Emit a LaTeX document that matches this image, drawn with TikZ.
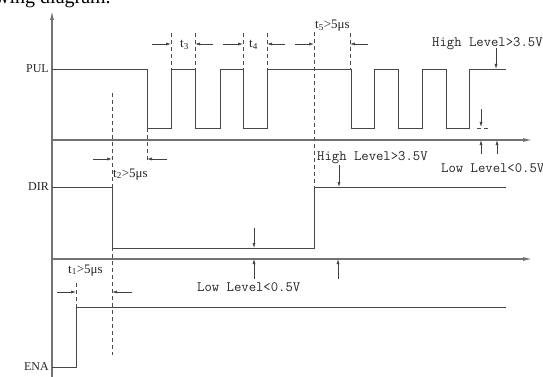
\documentclass[tikz,border=0pt]{standalone}
\usepackage{fontspec}
\setmainfont{Liberation Serif}
\usetikzlibrary{arrows.meta}
\newcommand\lvtext[1]{{\ttfamily\fontsize{14.3}{16}\selectfont #1}}
\tikzset{
  wave/.style={draw=black!72, line width=0.8pt},
  axisline/.style={draw=black!55, line width=1.1pt, -{Latex[length=9pt,width=4pt]}},
  guide/.style={draw=black!70, line width=0.6pt, dash pattern=on 4pt off 3pt},
  dimarrow/.style={draw=black!75, line width=0.6pt, -{Latex[length=5pt,width=3pt]}},
  sig/.style={font=\fontsize{12}{14}\selectfont, text=black!85, inner sep=0pt},
  tlabel/.style={font=\fontsize{13}{15}\selectfont, text=black!85, inner sep=0pt, anchor=base west},
  lvl/.style={text=black!85, inner sep=0pt, anchor=base west}
}
\begin{document}
\begin{tikzpicture}[x=1pt,y=-1pt]
\useasboundingbox (0,0) rectangle (543,377);
\clip (0,0) rectangle (543,377);
\fill[white] (0,0) rectangle (543,377);
% cropped heading text
\node[anchor=base west, inner sep=0pt, font=\fontsize{20}{22}\selectfont] (head) at (-5,4) {wing diagram.};
% axes
\coordinate (ybot) at (52,377);
\coordinate (ytop) at (52,11);
\draw[axisline] (ybot) -- (ytop);
\coordinate (pa0) at (52,140); \coordinate (pa1) at (532,140);
\coordinate (da0) at (52,259); \coordinate (da1) at (532,259);
\draw[axisline] (pa0) -- (pa1);
\draw[axisline] (da0) -- (da1);
% signal labels
\node[sig, anchor=east] (pul) at (49,69) {PUL};
\node[sig, anchor=east] (dir) at (49,187) {DIR};
\node[sig, anchor=east] (ena) at (49,367) {ENA};
% PUL waveform
\draw[wave] (52,69) -| (147,128) -| (171,69) -| (195,128) -| (220,69) -| (243,128) -| (267,69)
  -| (351,128) -| (374,69) -| (398,128) -| (422,69) -| (446,128) -| (469,69) -- (506,69);
% DIR waveform
\draw[wave] (52,187) -| (112,248) -| (314,187) -- (506,187);
% ENA waveform
\draw[wave] (52,367) -| (76,307) -- (506,307);
% guide lines
\draw[guide] (112,93) -- (112,355);
\draw[guide] (147,128) -- (147,163);
\foreach \x in {171,195,243,267,350} \draw[guide] (\x,33) -- (\x,69);
\draw[guide] (314,32) -- (314,187);
\draw[guide] (76,283) -- (76,307);
\draw[guide] (477,128) -- (490,128);
% timing dimension arrows
\draw[dimarrow] (152,44) -- (171,44);
\draw[dimarrow] (213,44) -- (195,44);
\draw[dimarrow] (223,44) -- (243,44);
\draw[dimarrow] (285,44) -- (267,44);
\draw[dimarrow] (295,44) -- (314,44);
\draw[dimarrow] (368,44) -- (350,44);
\draw[dimarrow] (93,159) -- (112,159);
\draw[dimarrow] (167,159) -- (147,159);
\draw[dimarrow] (57,292) -- (76,292);
\draw[dimarrow] (132,292) -- (112,292);
% level arrows
\draw[dimarrow] (496,48) -- (496,69);
\draw[dimarrow] (481,109) -- (481,127);
\draw[dimarrow] (481,154) -- (481,140);
\draw[dimarrow] (497,154) -- (497,140);
\draw[dimarrow] (339,165) -- (339,187);
\draw[dimarrow] (254,228) -- (254,248);
\draw[dimarrow] (254,279) -- (254,259);
\draw[dimarrow] (338,279) -- (338,259);
% timing labels
\node[tlabel] (t3) at (180,48) {t\textsubscript{3}};
\node[tlabel] (t4) at (249,48) {t\textsubscript{4}};
\node[tlabel] (t5) at (315,29) {t\textsubscript{5}>5μs};
\node[tlabel] (t2) at (113,177) {t\textsubscript{2}>5μs};
\node[tlabel] (t1) at (68,273) {t\textsubscript{1}>5μs};
% level labels
\node[lvl] (ph) at (432,47) {\lvtext{High Level>3.5V}};
\node[lvl] (pl) at (441,172) {\lvtext{Low Level<0.5V}};
\node[lvl] (dh) at (317,160) {\lvtext{High Level>3.5V}};
\node[lvl] (dl) at (197,291) {\lvtext{Low Level<0.5V}};
\end{tikzpicture}
\end{document}
